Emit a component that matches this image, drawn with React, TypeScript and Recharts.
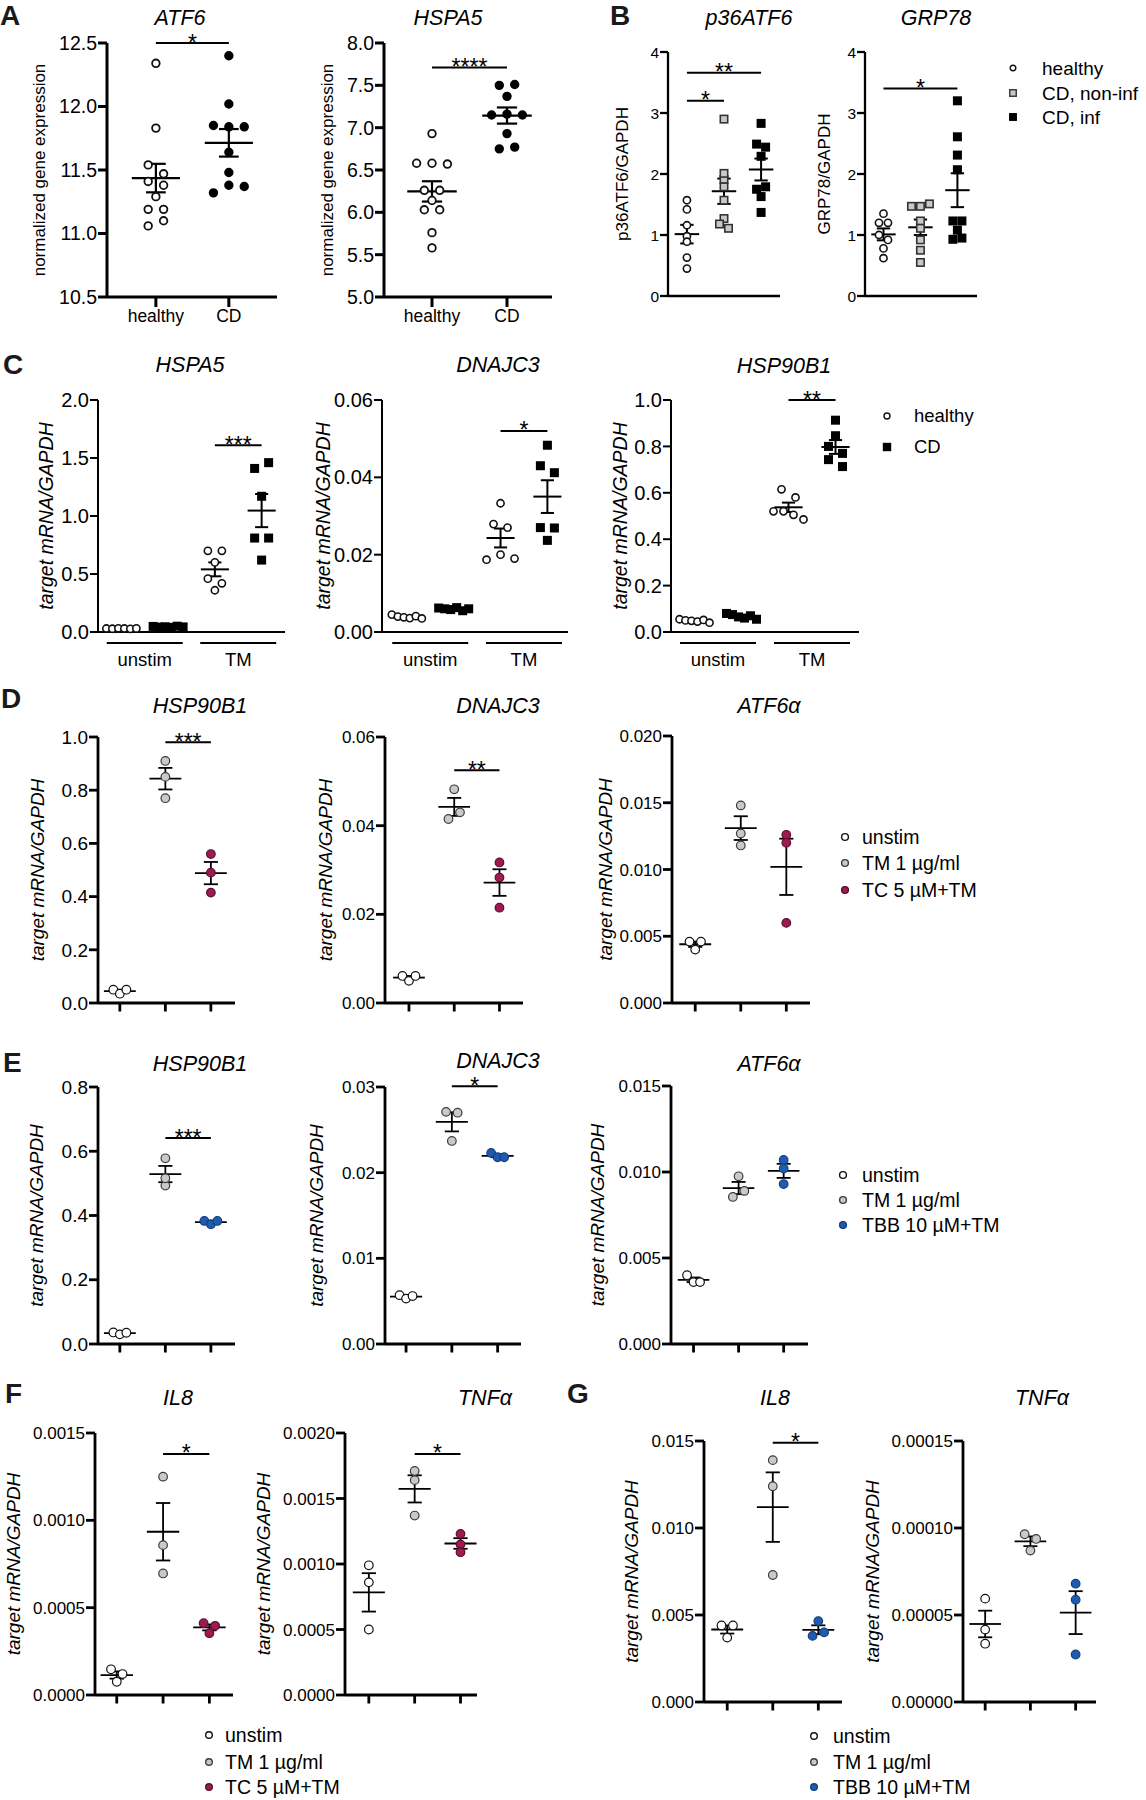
import React from 'react';
import { ScatterChart, Scatter, XAxis, YAxis, ReferenceLine } from 'recharts';

const FONT = '"Liberation Sans", Arial, Helvetica, sans-serif';

/* ============================ DATA ============================ */
// Panel A – normalized gene expression (microarray)
const A_CATEGORIES = ['healthy', 'CD'];
const A_ATF6_HEALTHY = [12.34, 11.83, 11.54, 11.47, 11.41, 11.38, 11.29, 11.19, 11.19, 11.06, 11.1];
const A_ATF6_CD = [12.4, 12.02, 11.85, 11.84, 11.84, 11.64, 11.48, 11.32, 11.38, 11.37];
const A_HSPA5_HEALTHY = [6.93, 6.58, 6.58, 6.57, 6.26, 6.26, 6.14, 6.03, 6.03, 5.76, 5.58];
const A_HSPA5_CD = [7.5, 7.51, 7.37, 7.15, 7.16, 7.15, 6.93, 6.75, 6.77];
const A_ATF6_TICKS = [10.5, 11, 11.5, 12, 12.5];
const A_HSPA5_TICKS = [5, 5.5, 6, 6.5, 7, 7.5, 8];

// Panel B – western blot densitometry
const B_LEGEND = ['healthy', 'CD, non-inf', 'CD, inf'];
const B_P36_HEALTHY = [1.57, 1.42, 1.16, 0.98, 0.89, 0.63, 0.45];
const B_P36_NONINF = [2.9, 1.91, 2.01, 1.79, 1.57, 1.27, 1.18, 1.11];
const B_P36_INF = [2.83, 2.49, 2.44, 2.29, 1.75, 1.79, 1.63, 1.37];
const B_GRP78_HEALTHY = [1.35, 1.2, 1.2, 1.0, 0.92, 0.78, 0.62];
const B_GRP78_NONINF = [1.47, 1.47, 1.51, 1.23, 1.11, 0.92, 0.75, 0.55];
const B_GRP78_INF = [3.2, 2.61, 2.31, 2.07, 1.23, 1.23, 1.08, 0.93, 0.95];
const B_TICKS = [0, 1, 2, 3, 4];

// Panel C – primary cells, unstim vs TM
const C_LEGEND = ['healthy', 'CD'];
const C_CATEGORIES = ['unstim', 'TM'];
const C_HSPA5_UN_H = [0.03, 0.028, 0.032, 0.03, 0.027, 0.031];
const C_HSPA5_UN_CD = [0.048, 0.042, 0.045, 0.04, 0.05, 0.044];
const C_HSPA5_TM_H = [0.7, 0.7, 0.6, 0.46, 0.42, 0.36];
const C_HSPA5_TM_CD = [1.41, 1.46, 1.17, 0.81, 0.81, 0.62];
const C_DNAJC3_UN_H = [0.0045, 0.004, 0.0038, 0.0036, 0.0041, 0.0035];
const C_DNAJC3_UN_CD = [0.0062, 0.006, 0.0058, 0.0063, 0.0055, 0.006];
const C_DNAJC3_TM_H = [0.0333, 0.0279, 0.027, 0.0187, 0.02, 0.019];
const C_DNAJC3_TM_CD = [0.0483, 0.043, 0.0412, 0.027, 0.0269, 0.0237];
const C_HSP90_UN_H = [0.055, 0.05, 0.048, 0.045, 0.052, 0.04];
const C_HSP90_UN_CD = [0.08, 0.075, 0.065, 0.06, 0.07, 0.055];
const C_HSP90_TM_H = [0.615, 0.58, 0.52, 0.52, 0.505, 0.485];
const C_HSP90_TM_CD = [0.913, 0.846, 0.8, 0.77, 0.743, 0.713];
const C_HSPA5_TICKS = [0, 0.5, 1, 1.5, 2];
const C_DNAJC3_TICKS = [0, 0.02, 0.04, 0.06];
const C_HSP90_TICKS = [0, 0.2, 0.4, 0.6, 0.8, 1];

// Panel D – TC inhibitor
const TC_LEGEND = ['unstim', 'TM 1 µg/ml', 'TC 5 µM+TM'];
const D_HSP90_UN = [0.05, 0.035, 0.05];
const D_HSP90_TM = [0.91, 0.85, 0.77];
const D_HSP90_TC = [0.56, 0.49, 0.415];
const D_DNAJC3_UN = [0.0061, 0.005, 0.0061];
const D_DNAJC3_TM = [0.0482, 0.0415, 0.043];
const D_DNAJC3_TC = [0.0317, 0.0283, 0.0215];
const D_ATF6_UN = [0.0046, 0.004, 0.0046];
const D_ATF6_TM = [0.0148, 0.0118, 0.0127];
const D_ATF6_TC = [0.0126, 0.012, 0.006];
const D_HSP90_TICKS = [0, 0.2, 0.4, 0.6, 0.8, 1];
const D_DNAJC3_TICKS = [0, 0.02, 0.04, 0.06];
const D_ATF6_TICKS = [0, 0.005, 0.01, 0.015, 0.02];

// Panel E – TBB inhibitor
const TBB_LEGEND = ['unstim', 'TM 1 µg/ml', 'TBB 10 µM+TM'];
const E_HSP90_UN = [0.036, 0.03, 0.035];
const E_HSP90_TM = [0.578, 0.493, 0.516];
const E_HSP90_TBB = [0.383, 0.373, 0.383];
const E_DNAJC3_UN = [0.0057, 0.0053, 0.0056];
const E_DNAJC3_TM = [0.0271, 0.027, 0.0237];
const E_DNAJC3_TBB = [0.0223, 0.0218, 0.0218];
const E_ATF6_UN = [0.004, 0.0036, 0.0036];
const E_ATF6_TM = [0.00975, 0.00855, 0.0089];
const E_ATF6_TBB = [0.0107, 0.0102, 0.0093];
const E_HSP90_TICKS = [0, 0.2, 0.4, 0.6, 0.8];
const E_DNAJC3_TICKS = [0, 0.01, 0.02, 0.03];
const E_ATF6_TICKS = [0, 0.005, 0.01, 0.015];

// Panel F – cytokines with TC
const F_IL8_UN = [0.000147, 0.00012, 0.000076];
const F_IL8_TM = [0.00125, 0.000858, 0.000696];
const F_IL8_TC = [0.000411, 0.000396, 0.000354];
const F_TNF_UN = [0.00099, 0.00086, 0.0005];
const F_TNF_TM = [0.00171, 0.00164, 0.00137];
const F_TNF_TC = [0.00123, 0.00115, 0.00109];
const F_IL8_TICKS = [0, 0.0005, 0.001, 0.0015];
const F_TNF_TICKS = [0, 0.0005, 0.001, 0.0015, 0.002];

// Panel G – cytokines with TBB
const G_IL8_UN = [0.0044, 0.0037, 0.0044];
const G_IL8_TM = [0.0139, 0.0124, 0.0073];
const G_IL8_TBB = [0.00465, 0.0038, 0.004];
const G_TNF_UN = [0.0000594, 0.0000416, 0.0000335];
const G_TNF_TM = [0.000087, 0.0000964, 0.0000937];
const G_TNF_TBB = [0.000068, 0.0000588, 0.0000273];
const G_IL8_TICKS = [0, 0.005, 0.01, 0.015];
const G_TNF_TICKS = [0, 0.00005, 0.0001, 0.00015];

/* ============================ STYLE ============================ */
type Kind = 'open' | 'black' | 'grey' | 'tc' | 'tbb' | 'sqGrey' | 'sqBlack';
const KIND_COLORS: Record<Kind, [string, string]> = {
  open: ['#ffffff', '#111111'],
  black: ['#000000', '#000000'],
  grey: ['#c9c9c9', '#3c3c3c'],
  tc: ['#9d1b50', '#5c0f2f'],
  tbb: ['#1f5bb1', '#143f7d'],
  sqGrey: ['#c9c9c9', '#333333'],
  sqBlack: ['#000000', '#000000'],
};

interface SizeStyle {
  r: number; sq: number; sw: number; axisW: number; lineW: number;
  tick: number; cat: number; label: number; swarm: number; maxRow: number;
  meanHalf: number; capHalf: number; yTickSize: number; xTickSize: number;
}
const STYLES: Record<string, SizeStyle> = {
  A: { r: 3.8, sq: 0, sw: 1.8, axisW: 3, lineW: 2.2, tick: 19.5, cat: 17.5, label: 17, swarm: 15.4, maxRow: 31, meanHalf: 0.33, capHalf: 0.135, yTickSize: 9, xTickSize: 10 },
  B: { r: 3.6, sq: 7.4, sw: 1.6, axisW: 2.3, lineW: 2, tick: 15.5, cat: 17, label: 17, swarm: 9, maxRow: 18, meanHalf: 0.33, capHalf: 0.18, yTickSize: 8, xTickSize: 8 },
  C: { r: 3.6, sq: 7.4, sw: 1.6, axisW: 2, lineW: 2, tick: 20, cat: 18.5, label: 19.5, swarm: 14, maxRow: 30, meanHalf: 0.3, capHalf: 0.14, yTickSize: 8, xTickSize: 0 },
  D: { r: 4.3, sq: 0, sw: 1.2, axisW: 2.8, lineW: 1.8, tick: 17, cat: 17, label: 19, swarm: 11.5, maxRow: 13, meanHalf: 0.35, capHalf: 0.155, yTickSize: 9, xTickSize: 8.5 },
};

/* ============================ CONFIG ============================ */
interface GroupCfg { values: number[]; kind: Kind }
interface SigCfg { from: number; to: number; y: number; label: string }
interface PanelCfg {
  title: string; titleX: number; titleY: number;
  yLabel: string; yLabelItalic: boolean; yLabelX: number;
  axisX: number; top: number; bottom: number; right: number;
  xDomain: [number, number]; yTicks: number[]; decimals: number;
  groups: GroupCfg[]; sig: SigCfg[];
  xMode: 'cats' | 'ticks' | 'none' | 'bars'; xLabels?: string[]; barCenters?: number[];
  size: 'A' | 'B' | 'C' | 'D'; tickFont?: number;
}

const TMRNA = 'target mRNA/GAPDH';
const g = (values: number[], kind: Kind): GroupCfg => ({ values, kind });

const PANELS: PanelCfg[] = [
  { title: 'ATF6', titleX: 180, titleY: 25, yLabel: 'normalized gene expression', yLabelItalic: false, yLabelX: 41,
    axisX: 107, top: 43, bottom: 297, right: 277, xDomain: [0.33, 2.66], yTicks: A_ATF6_TICKS, decimals: 1,
    groups: [g(A_ATF6_HEALTHY, 'open'), g(A_ATF6_CD, 'black')], sig: [{ from: 1, to: 2, y: 12.5, label: '*' }],
    xMode: 'cats', xLabels: A_CATEGORIES, size: 'A' },
  { title: 'HSPA5', titleX: 448, titleY: 25, yLabel: 'normalized gene expression', yLabelItalic: false, yLabelX: 329,
    axisX: 384, top: 43, bottom: 297, right: 552, xDomain: [0.36, 2.6], yTicks: A_HSPA5_TICKS, decimals: 1,
    groups: [g(A_HSPA5_HEALTHY, 'open'), g(A_HSPA5_CD, 'black')], sig: [{ from: 1, to: 2, y: 7.71, label: '****' }],
    xMode: 'cats', xLabels: A_CATEGORIES, size: 'A' },
  { title: 'p36ATF6', titleX: 749, titleY: 25, yLabel: 'p36ATF6/GAPDH', yLabelItalic: false, yLabelX: 624,
    axisX: 668, top: 52, bottom: 296, right: 780, xDomain: [0.49, 3.51], yTicks: B_TICKS, decimals: 0,
    groups: [g(B_P36_HEALTHY, 'open'), g(B_P36_NONINF, 'sqGrey'), g(B_P36_INF, 'sqBlack')],
    sig: [{ from: 1, to: 2, y: 3.2, label: '*' }, { from: 1, to: 3, y: 3.66, label: '**' }], xMode: 'none', size: 'B' },
  { title: 'GRP78', titleX: 936, titleY: 25, yLabel: 'GRP78/GAPDH', yLabelItalic: false, yLabelX: 826,
    axisX: 865, top: 52, bottom: 296, right: 977, xDomain: [0.5, 3.53], yTicks: B_TICKS, decimals: 0,
    groups: [g(B_GRP78_HEALTHY, 'open'), g(B_GRP78_NONINF, 'sqGrey'), g(B_GRP78_INF, 'sqBlack')],
    sig: [{ from: 1, to: 3, y: 3.4, label: '*' }], xMode: 'none', size: 'B' },
  { title: 'HSPA5', titleX: 190, titleY: 372, yLabel: TMRNA, yLabelItalic: true, yLabelX: 48,
    axisX: 98, top: 400, bottom: 632, right: 285, xDomain: [0.5, 4.5], yTicks: C_HSPA5_TICKS, decimals: 1,
    groups: [g(C_HSPA5_UN_H, 'open'), g(C_HSPA5_UN_CD, 'sqBlack'), g(C_HSPA5_TM_H, 'open'), g(C_HSPA5_TM_CD, 'sqBlack')],
    sig: [{ from: 3, to: 4, y: 1.61, label: '***' }], xMode: 'bars', xLabels: C_CATEGORIES, barCenters: [1.5, 3.5], size: 'C' },
  { title: 'DNAJC3', titleX: 498, titleY: 372, yLabel: TMRNA, yLabelItalic: true, yLabelX: 325,
    axisX: 382, top: 400, bottom: 632, right: 568, xDomain: [0.47, 4.44], yTicks: C_DNAJC3_TICKS, decimals: 2,
    groups: [g(C_DNAJC3_UN_H, 'open'), g(C_DNAJC3_UN_CD, 'sqBlack'), g(C_DNAJC3_TM_H, 'open'), g(C_DNAJC3_TM_CD, 'sqBlack')],
    sig: [{ from: 3, to: 4, y: 0.052, label: '*' }], xMode: 'bars', xLabels: C_CATEGORIES, barCenters: [1.5, 3.5], size: 'C' },
  { title: 'HSP90B1', titleX: 784, titleY: 373, yLabel: TMRNA, yLabelItalic: true, yLabelX: 622,
    axisX: 671, top: 400, bottom: 632, right: 859, xDomain: [0.5, 4.5], yTicks: C_HSP90_TICKS, decimals: 1,
    groups: [g(C_HSP90_UN_H, 'open'), g(C_HSP90_UN_CD, 'sqBlack'), g(C_HSP90_TM_H, 'open'), g(C_HSP90_TM_CD, 'sqBlack')],
    sig: [{ from: 3, to: 4, y: 1.0, label: '**' }], xMode: 'bars', xLabels: C_CATEGORIES, barCenters: [1.5, 3.5], size: 'C' },
  { title: 'HSP90B1', titleX: 200, titleY: 713, yLabel: TMRNA, yLabelItalic: true, yLabelX: 39,
    axisX: 98, top: 737, bottom: 1003, right: 235, xDomain: [0.52, 3.53], yTicks: D_HSP90_TICKS, decimals: 1,
    groups: [g(D_HSP90_UN, 'open'), g(D_HSP90_TM, 'grey'), g(D_HSP90_TC, 'tc')],
    sig: [{ from: 2, to: 3, y: 0.98, label: '***' }], xMode: 'ticks', size: 'D', tickFont: 19 },
  { title: 'DNAJC3', titleX: 498, titleY: 713, yLabel: TMRNA, yLabelItalic: true, yLabelX: 327,
    axisX: 385, top: 737, bottom: 1003, right: 523, xDomain: [0.47, 3.52], yTicks: D_DNAJC3_TICKS, decimals: 2,
    groups: [g(D_DNAJC3_UN, 'open'), g(D_DNAJC3_TM, 'grey'), g(D_DNAJC3_TC, 'tc')],
    sig: [{ from: 2, to: 3, y: 0.0525, label: '**' }], xMode: 'ticks', size: 'D' },
  { title: 'ATF6α', titleX: 769, titleY: 713, yLabel: TMRNA, yLabelItalic: true, yLabelX: 607,
    axisX: 672, top: 736, bottom: 1003, right: 810, xDomain: [0.49, 3.52], yTicks: D_ATF6_TICKS, decimals: 3,
    groups: [g(D_ATF6_UN, 'open'), g(D_ATF6_TM, 'grey'), g(D_ATF6_TC, 'tc')], sig: [], xMode: 'ticks', size: 'D' },
  { title: 'HSP90B1', titleX: 200, titleY: 1071, yLabel: TMRNA, yLabelItalic: true, yLabelX: 38,
    axisX: 98, top: 1087, bottom: 1344, right: 235, xDomain: [0.52, 3.53], yTicks: E_HSP90_TICKS, decimals: 1,
    groups: [g(E_HSP90_UN, 'open'), g(E_HSP90_TM, 'grey'), g(E_HSP90_TBB, 'tbb')],
    sig: [{ from: 2, to: 3, y: 0.641, label: '***' }], xMode: 'ticks', size: 'D', tickFont: 19 },
  { title: 'DNAJC3', titleX: 498, titleY: 1068, yLabel: TMRNA, yLabelItalic: true, yLabelX: 318,
    axisX: 385, top: 1087, bottom: 1344, right: 521, xDomain: [0.54, 3.51], yTicks: E_DNAJC3_TICKS, decimals: 2,
    groups: [g(E_DNAJC3_UN, 'open'), g(E_DNAJC3_TM, 'grey'), g(E_DNAJC3_TBB, 'tbb')],
    sig: [{ from: 2, to: 3, y: 0.0301, label: '*' }], xMode: 'ticks', size: 'D' },
  { title: 'ATF6α', titleX: 769, titleY: 1071, yLabel: TMRNA, yLabelItalic: true, yLabelX: 599,
    axisX: 671, top: 1086, bottom: 1344, right: 808, xDomain: [0.5, 3.54], yTicks: E_ATF6_TICKS, decimals: 3,
    groups: [g(E_ATF6_UN, 'open'), g(E_ATF6_TM, 'grey'), g(E_ATF6_TBB, 'tbb')], sig: [], xMode: 'ticks', size: 'D' },
  { title: 'IL8', titleX: 178, titleY: 1405, yLabel: TMRNA, yLabelItalic: true, yLabelX: 15,
    axisX: 95, top: 1433, bottom: 1695, right: 233, xDomain: [0.53, 3.51], yTicks: F_IL8_TICKS, decimals: 4,
    groups: [g(F_IL8_UN, 'open'), g(F_IL8_TM, 'grey'), g(F_IL8_TC, 'tc')],
    sig: [{ from: 2, to: 3, y: 0.00138, label: '*' }], xMode: 'ticks', size: 'D' },
  { title: 'TNFα', titleX: 485, titleY: 1405, yLabel: TMRNA, yLabelItalic: true, yLabelX: 265,
    axisX: 345, top: 1433, bottom: 1695, right: 477, xDomain: [0.48, 3.36], yTicks: F_TNF_TICKS, decimals: 4,
    groups: [g(F_TNF_UN, 'open'), g(F_TNF_TM, 'grey'), g(F_TNF_TC, 'tc')],
    sig: [{ from: 2, to: 3, y: 0.00184, label: '*' }], xMode: 'ticks', size: 'D' },
  { title: 'IL8', titleX: 775, titleY: 1405, yLabel: TMRNA, yLabelItalic: true, yLabelX: 633,
    axisX: 704, top: 1441, bottom: 1702, right: 842, xDomain: [0.49, 3.52], yTicks: G_IL8_TICKS, decimals: 3,
    groups: [g(G_IL8_UN, 'open'), g(G_IL8_TM, 'grey'), g(G_IL8_TBB, 'tbb')],
    sig: [{ from: 2, to: 3, y: 0.0149, label: '*' }], xMode: 'ticks', size: 'D' },
  { title: 'TNFα', titleX: 1042, titleY: 1405, yLabel: TMRNA, yLabelItalic: true, yLabelX: 874,
    axisX: 963, top: 1441, bottom: 1702, right: 1096, xDomain: [0.51, 3.45], yTicks: G_TNF_TICKS, decimals: 5,
    groups: [g(G_TNF_UN, 'open'), g(G_TNF_TM, 'grey'), g(G_TNF_TBB, 'tbb')], sig: [], xMode: 'ticks', size: 'D' },
];

interface LegendCfg { labels: string[]; kinds: Kind[]; mx: number; tx: number; rows: number[]; r: number; sq: number; fs: number }
const LEGENDS: LegendCfg[] = [
  { labels: B_LEGEND, kinds: ['open', 'sqGrey', 'sqBlack'], mx: 1013, tx: 1042, rows: [68, 93, 117], r: 2.8, sq: 6.5, fs: 19 },
  { labels: C_LEGEND, kinds: ['open', 'sqBlack'], mx: 887, tx: 914, rows: [416, 447], r: 3, sq: 7, fs: 18.5 },
  { labels: TC_LEGEND, kinds: ['open', 'grey', 'tc'], mx: 845, tx: 862, rows: [837, 863, 890], r: 3.4, sq: 0, fs: 19.5 },
  { labels: TBB_LEGEND, kinds: ['open', 'grey', 'tbb'], mx: 843, tx: 862, rows: [1175, 1200, 1225], r: 3.4, sq: 0, fs: 19.5 },
  { labels: TC_LEGEND, kinds: ['open', 'grey', 'tc'], mx: 209, tx: 225, rows: [1735, 1762, 1787], r: 3.3, sq: 0, fs: 19.5 },
  { labels: TBB_LEGEND, kinds: ['open', 'grey', 'tbb'], mx: 814, tx: 833, rows: [1736, 1762, 1787], r: 3.3, sq: 0, fs: 19.5 },
];

const LETTERS = [
  { t: 'A', x: 0, y: 25 }, { t: 'B', x: 610, y: 25 }, { t: 'C', x: 3, y: 374 }, { t: 'D', x: 1, y: 708 },
  { t: 'E', x: 3, y: 1072 }, { t: 'F', x: 5, y: 1403 }, { t: 'G', x: 567, y: 1403 },
];

/* ============================ HELPERS ============================ */
const mean = (v: number[]) => v.reduce((a, b) => a + b, 0) / v.length;
const sem = (v: number[]) => {
  const m = mean(v);
  const sd = Math.sqrt(v.reduce((a, b) => a + (b - m) * (b - m), 0) / (v.length - 1));
  return sd / Math.sqrt(v.length);
};

// row-based beeswarm: points close in value share a row, spread symmetrically
function swarmOffsets(values: number[], pxPerY: number, S: number, maxW: number): number[] {
  const idx = values.map((_, i) => i).sort((a, b) => values[b] - values[a]);
  const off = new Array(values.length).fill(0);
  let k = 0;
  while (k < idx.length) {
    const start = values[idx[k]];
    const row = [idx[k]];
    let j = k + 1;
    while (j < idx.length && (start - values[idx[j]]) * pxPerY < 0.6 * S) { row.push(idx[j]); j++; }
    row.sort((a, b) => a - b);
    const n = row.length;
    const step = n > 1 ? Math.min(S, maxW / (n - 1)) : 0;
    row.forEach((id, q) => { off[id] = (q - (n - 1) / 2) * step; });
    k = j;
  }
  return off;
}

function MarkerShape({ kind, cx, cy, r, sq, sw }: { kind: Kind; cx: number; cy: number; r: number; sq: number; sw: number }) {
  const [fill, stroke] = KIND_COLORS[kind];
  if (kind === 'sqGrey' || kind === 'sqBlack') {
    return <rect x={cx - sq / 2} y={cy - sq / 2} width={sq} height={sq} fill={fill} stroke={stroke} strokeWidth={sw} />;
  }
  return <circle cx={cx} cy={cy} r={r} fill={fill} stroke={stroke} strokeWidth={sw} />;
}

/* ============================ PANEL ============================ */
function Panel({ p }: { p: PanelCfg }) {
  const st = STYLES[p.size];
  const tickFont = p.tickFont || st.tick;
  const YW = 100, MT = 40, MB = 50, MR = 20;
  const plotW = p.right - p.axisX;
  const plotH = p.bottom - p.top;
  const W = plotW + YW + MR;
  const H = plotH + MT + MB;
  const left = p.axisX - YW;
  const top = p.top - MT;
  const yMin = p.yTicks[0];
  const yMax = p.yTicks[p.yTicks.length - 1];
  const pxPerY = plotH / (yMax - yMin);
  const pxPerX = plotW / (p.xDomain[1] - p.xDomain[0]);

  const groups = p.groups.map((gr, i) => {
    const gx = i + 1;
    const off = swarmOffsets(gr.values, pxPerY, st.swarm, st.maxRow);
    const pts = gr.values.map((v, k) => ({ x: gx + off[k] / pxPerX, y: v }));
    return { gx, pts, m: mean(gr.values), s: sem(gr.values), kind: gr.kind };
  });

  const lx = p.yLabelX - left + 0.25 * st.label;
  const ly = MT + plotH / 2;
  const yLabel = () => (
    <text x={lx} y={ly} transform={`rotate(-90 ${lx} ${ly})`} textAnchor="middle" fontSize={st.label}
      fontStyle={p.yLabelItalic ? 'italic' : 'normal'} fill="#000">{p.yLabel}</text>
  );

  const axisLine = { stroke: '#000', strokeWidth: st.axisW };
  const tickLine = { stroke: '#000', strokeWidth: st.axisW };
  const n = p.groups.length;
  const groupTicks = Array.from({ length: n }, (_, i) => i + 1);

  const BarTick = (props: any) => {
    const { x, y, payload } = props;
    const i = (p.barCenters || []).indexOf(payload.value);
    return (
      <g>
        <line x1={x - 38} x2={x + 38} y1={y + 11} y2={y + 11} stroke="#000" strokeWidth={2} />
        <text x={x} y={y + 34} textAnchor="middle" fontSize={st.cat} fill="#000">{(p.xLabels || [])[i]}</text>
      </g>
    );
  };

  let xAxis: React.ReactNode;
  if (p.xMode === 'cats') {
    xAxis = <XAxis type="number" dataKey="x" domain={p.xDomain} ticks={groupTicks} interval={0} height={MB}
      axisLine={axisLine} tickLine={tickLine} tickSize={st.xTickSize} tickMargin={3}
      tick={{ fontSize: st.cat, fill: '#000' }} tickFormatter={(v: number) => (p.xLabels || [])[Math.round(v) - 1] || ''} />;
  } else if (p.xMode === 'ticks') {
    xAxis = <XAxis type="number" dataKey="x" domain={p.xDomain} ticks={groupTicks} interval={0} height={MB}
      axisLine={axisLine} tickLine={tickLine} tickSize={st.xTickSize} tickFormatter={() => ''} />;
  } else if (p.xMode === 'bars') {
    xAxis = <XAxis type="number" dataKey="x" domain={p.xDomain} ticks={p.barCenters} interval={0} height={MB}
      axisLine={axisLine} tickLine={false} tickSize={0} tickMargin={0} tick={BarTick} />;
  } else {
    xAxis = <XAxis type="number" dataKey="x" domain={p.xDomain} height={MB} axisLine={axisLine} tickLine={false} tick={false} />;
  }

  return (
    <div style={{ position: 'absolute', left, top, width: W, height: H }}>
      <ScatterChart width={W} height={H} margin={{ top: MT, right: MR, bottom: 0, left: 0 }}>
        {xAxis}
        <YAxis type="number" dataKey="y" domain={[yMin, yMax]} ticks={p.yTicks} interval={0} width={YW}
          axisLine={axisLine} tickLine={tickLine} tickSize={st.yTickSize} tickMargin={1}
          tick={{ fontSize: tickFont, fill: '#000' }} tickFormatter={(v: number) => v.toFixed(p.decimals)}
          label={yLabel} />
        {groups.map((gr, i) => (
          <Scatter key={`s${i}`} data={gr.pts} dataKey="y" isAnimationActive={false}
            shape={(sp: any) => <MarkerShape kind={gr.kind} cx={sp.cx} cy={sp.cy} r={st.r} sq={st.sq} sw={st.sw} />} />
        ))}
        {groups.map((gr, i) => (
          <ReferenceLine key={`m${i}`} ifOverflow="visible" stroke="#000" strokeWidth={st.lineW}
            segment={[{ x: gr.gx - st.meanHalf, y: gr.m }, { x: gr.gx + st.meanHalf, y: gr.m }]} />
        ))}
        {groups.map((gr, i) => (
          <ReferenceLine key={`v${i}`} ifOverflow="visible" stroke="#000" strokeWidth={st.lineW}
            segment={[{ x: gr.gx, y: gr.m - gr.s }, { x: gr.gx, y: gr.m + gr.s }]} />
        ))}
        {groups.map((gr, i) => (
          <ReferenceLine key={`u${i}`} ifOverflow="visible" stroke="#000" strokeWidth={st.lineW}
            segment={[{ x: gr.gx - st.capHalf, y: gr.m + gr.s }, { x: gr.gx + st.capHalf, y: gr.m + gr.s }]} />
        ))}
        {groups.map((gr, i) => (
          <ReferenceLine key={`d${i}`} ifOverflow="visible" stroke="#000" strokeWidth={st.lineW}
            segment={[{ x: gr.gx - st.capHalf, y: gr.m - gr.s }, { x: gr.gx + st.capHalf, y: gr.m - gr.s }]} />
        ))}
        {p.sig.map((s, i) => (
          <ReferenceLine key={`sig${i}`} ifOverflow="visible" stroke="#000" strokeWidth={2}
            segment={[{ x: s.from, y: s.y }, { x: s.to, y: s.y }]}
            label={{ value: s.label, position: 'top', offset: -7.5, fontSize: 23, fill: '#000' }} />
        ))}
      </ScatterChart>
    </div>
  );
}

/* ============================ APP ============================ */
export default function App() {
  return (
    <div style={{ position: 'absolute', left: 0, top: 0, width: 1146, height: 1800, background: '#fff', fontFamily: FONT, overflow: 'hidden' }}>
      {PANELS.map((p, i) => <Panel key={i} p={p} />)}
      <svg width={1146} height={1800} style={{ position: 'absolute', left: 0, top: 0, pointerEvents: 'none' }}>
        {LETTERS.map((l) => (
          <text key={l.t} x={l.x} y={l.y} fontSize={28} fontWeight="bold" fill="#1a1a1a">{l.t}</text>
        ))}
        {PANELS.map((p, i) => (
          <text key={`t${i}`} x={p.titleX} y={p.titleY} fontSize={21.5} fontStyle="italic" textAnchor="middle" fill="#000">{p.title}</text>
        ))}
        {LEGENDS.map((l, li) => (
          <g key={`l${li}`}>
            {l.labels.map((lab, i) => (
              <g key={i}>
                <MarkerShape kind={l.kinds[i]} cx={l.mx} cy={l.rows[i]} r={l.r} sq={l.sq} sw={1.4} />
                <text x={l.tx} y={l.rows[i] + 0.35 * l.fs} fontSize={l.fs} fill="#000">{lab}</text>
              </g>
            ))}
          </g>
        ))}
      </svg>
    </div>
  );
}
